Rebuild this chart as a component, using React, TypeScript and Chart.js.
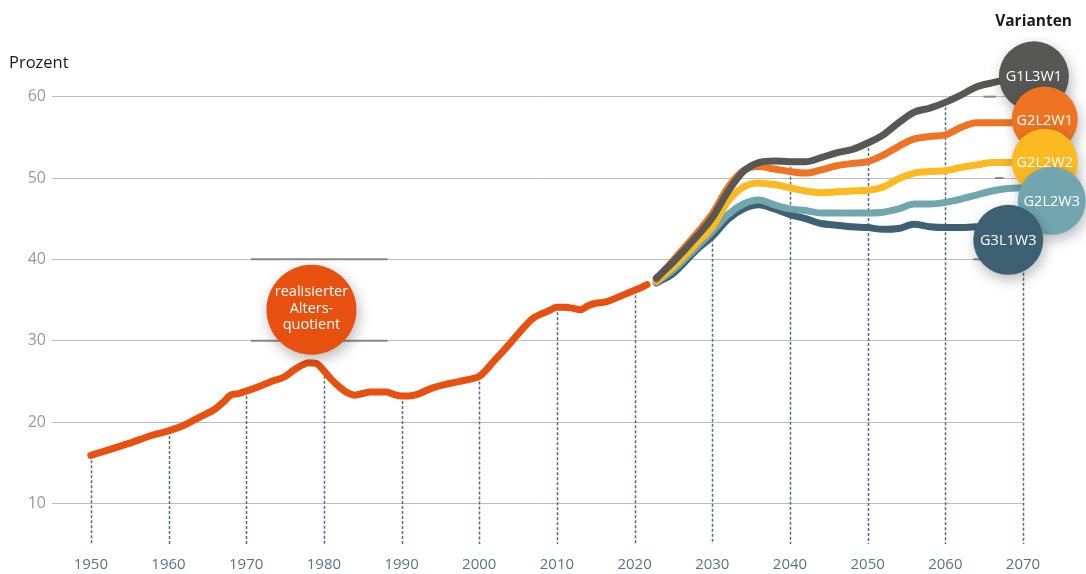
import React, { useEffect, useRef } from "react";
import { Chart, registerables } from "chart.js";

Chart.register(...registerables);

// ---------- data ----------
const histYears = [
  1950, 1955, 1958, 1960, 1962, 1964, 1966, 1967, 1968, 1969, 1970, 1972, 1973, 1975, 1976, 1977,
  1978, 1979, 1980, 1981, 1982, 1983, 1984, 1985, 1986, 1988, 1989, 1990, 1991, 1992, 1994, 1996,
  1998, 1999, 2000, 2002, 2004, 2006, 2007, 2008, 2009, 2010, 2011, 2012, 2013, 2014, 2015, 2016,
  2017, 2018, 2019, 2020, 2021, 2021.6,
];
const histValues = [
  15.9, 17.4, 18.4, 18.9, 19.6, 20.6, 21.6, 22.4, 23.3, 23.5, 23.8, 24.5, 24.9, 25.6, 26.3, 26.9,
  27.3, 27.2, 26.3, 25.2, 24.3, 23.6, 23.3, 23.5, 23.7, 23.7, 23.4, 23.2, 23.2, 23.4, 24.2, 24.7,
  25.1, 25.3, 25.6, 27.6, 29.7, 31.9, 32.8, 33.3, 33.7, 34.1, 34.1, 34.0, 33.8, 34.3, 34.6, 34.7,
  35.0, 35.4, 35.8, 36.2, 36.6, 36.9,
];

const projYears = [
  2022.8, 2025, 2028, 2030, 2032, 2034, 2036, 2038, 2040, 2042, 2044, 2046, 2048, 2050, 2052, 2054,
  2056, 2058, 2060, 2062, 2064, 2066, 2068, 2070,
];
const g1l3w1 = [
  37.7, 39.7, 42.8, 45.1, 48.3, 50.8, 51.9, 52.1, 52.0, 52.0, 52.5, 53.1, 53.5, 54.3, 55.3, 56.8,
  58.1, 58.6, 59.3, 60.2, 61.2, 61.7, 62.1, null,
];
const g2l2w1 = [
  37.5, 39.9, 43.2, 45.6, 48.8, 50.9, 51.4, 51.1, 50.8, 50.6, 51.0, 51.5, 51.8, 52.0, 52.8, 53.9,
  54.8, 55.1, 55.3, 56.2, 56.8, 56.8, 56.8, 56.8,
];
const g2l2w2 = [
  37.3, 39.1, 42.0, 44.0, 47.1, 48.9, 49.4, 49.2, 48.8, 48.4, 48.2, 48.3, 48.4, 48.5, 48.9, 49.9,
  50.6, 50.8, 50.9, 51.3, 51.6, 51.9, 51.9, 51.9,
];
const g2l2w3 = [
  37.2, 38.7, 41.5, 43.4, 45.5, 46.8, 47.3, 46.7, 46.2, 46.0, 45.7, 45.7, 45.7, 45.7, 45.8, 46.2,
  46.8, 46.8, 47.0, 47.4, 47.9, 48.4, 48.7, 48.8,
];
const g3l1w3 = [
  37.1, 38.3, 41.2, 42.8, 44.9, 46.2, 46.7, 46.2, 45.5, 45.0, 44.4, 44.2, 44.0, 43.9, 43.7, 43.8,
  44.3, 44.0, 43.9, 43.9, 44.0, 44.0, null, null,
];

const xTickYears = [1950, 1960, 1970, 1980, 1990, 2000, 2010, 2020, 2030, 2040, 2050, 2060, 2070];
const yTickValues = [10, 20, 30, 40, 50, 60];

const variantNames = ["G1L3W1", "G2L2W1", "G2L2W2", "G2L2W3", "G3L1W3"];
const variantSeries = [g1l3w1, g2l2w1, g2l2w2, g2l2w3, g3l1w3];
const variantColors = ["#575756", "#EE7322", "#FBB922", "#72A6AF", "#3D6073"];
const histColor = "#E8500F";
const histLabelLines = ["realisierter", "Alters-", "quotient"];

// label bubble anchors in data units [year, value, radius]
const variantBubbles: [number, number, number][] = [
  [2071.4, 62.5, 35],
  [2072.8, 57.2, 33],
  [2072.8, 52.0, 33],
  [2073.7, 47.2, 34],
  [2068.1, 42.4, 35],
];
const histBubble: [number, number, number] = [1978.4, 33.8, 45];

const FONT = "'Open Sans', 'Noto Sans', sans-serif";

function interp(xs: number[], ys: (number | null)[], x: number): number | null {
  for (let i = 0; i < xs.length - 1; i++) {
    const a = ys[i];
    const b = ys[i + 1];
    if (a == null || b == null) continue;
    if (x >= xs[i] && x <= xs[i + 1]) {
      const t = (x - xs[i]) / (xs[i + 1] - xs[i]);
      return a + (b - a) * t;
    }
  }
  return null;
}

const decorPlugin = {
  id: "decor",
  beforeDatasetsDraw(chart: any) {
    const { ctx, chartArea, scales } = chart;
    const xs = scales.x;
    const ys = scales.y;
    ctx.save();
    // darker bracket segments
    ctx.strokeStyle = "#8a8a8a";
    ctx.lineWidth = 2;
    const segs: [number, number, number][] = [
      [1970.6, 1988.2, 40],
      [1970.6, 1988.2, 30],
      [2064.9, 2066.5, 60],
      [2066.4, 2067.5, 50],
      [2063.6, 2065.8, 40],
    ];
    segs.forEach(([a, b, v]) => {
      ctx.beginPath();
      ctx.moveTo(xs.getPixelForValue(a), ys.getPixelForValue(v));
      ctx.lineTo(xs.getPixelForValue(b), ys.getPixelForValue(v));
      ctx.stroke();
    });
    // dashed drop lines
    ctx.strokeStyle = "#4E6F82";
    ctx.lineWidth = 1.5;
    ctx.setLineDash([3, 2]);
    xTickYears.forEach((yr) => {
      const cands: number[] = [];
      const h = interp(histYears, histValues, yr);
      if (h != null) cands.push(h);
      variantSeries.forEach((s) => {
        const v = interp(projYears, s, yr);
        if (v != null) cands.push(v);
      });
      const top = cands.length ? Math.max(...cands) : variantBubbles[4][1];
      const px = Math.round(xs.getPixelForValue(yr)) + 0.5;
      ctx.beginPath();
      ctx.moveTo(px, ys.getPixelForValue(top));
      ctx.lineTo(px, chartArea.bottom);
      ctx.stroke();
    });
    ctx.restore();
  },
  afterDatasetsDraw(chart: any) {
    const { ctx, scales } = chart;
    const xs = scales.x;
    const ys = scales.y;
    const drawBubble = (cx: number, cy: number, r: number, color: string) => {
      ctx.save();
      ctx.shadowColor = "rgba(0,0,0,0.28)";
      ctx.shadowBlur = 14;
      ctx.shadowOffsetX = 2;
      ctx.shadowOffsetY = 5;
      ctx.fillStyle = color;
      ctx.beginPath();
      ctx.arc(cx, cy, r, 0, Math.PI * 2);
      ctx.fill();
      ctx.restore();
    };
    {
      const [yr, v, r] = histBubble;
      const cx = xs.getPixelForValue(yr);
      const cy = ys.getPixelForValue(v);
      drawBubble(cx, cy, r, histColor);
      ctx.save();
      ctx.fillStyle = "#ffffff";
      ctx.font = `14.5px ${FONT}`;
      ctx.textAlign = "center";
      ctx.textBaseline = "middle";
      histLabelLines.forEach((t, i) => {
        ctx.fillText(t, cx, cy + (i - 1) * 16.5 - 1);
      });
      ctx.restore();
    }
    variantBubbles.forEach(([yr, v, r], i) => {
      const cx = xs.getPixelForValue(yr);
      const cy = ys.getPixelForValue(v);
      drawBubble(cx, cy, r, variantColors[i]);
      ctx.save();
      ctx.fillStyle = "#ffffff";
      ctx.font = `14.5px ${FONT}`;
      ctx.textAlign = "center";
      ctx.textBaseline = "middle";
      ctx.fillText(variantNames[i], cx, cy + 1);
      ctx.restore();
    });
  },
  afterDraw(chart: any) {
    const { ctx } = chart;
    ctx.save();
    ctx.fillStyle = "#1a1a1a";
    ctx.textBaseline = "middle";
    ctx.textAlign = "left";
    ctx.font = `16.5px ${FONT}`;
    ctx.fillText("Prozent", 9, 63);
    ctx.font = `bold 15.5px ${FONT}`;
    ctx.textAlign = "right";
    ctx.fillText("Varianten", 1072, 22);
    ctx.restore();
  },
};

export default function App() {
  const ref = useRef<HTMLCanvasElement | null>(null);
  useEffect(() => {
    if (!ref.current) return;
    const toPts = (xs: number[], ys: (number | null)[]) =>
      xs.map((x, i) => ({ x, y: ys[i] })).filter((p) => p.y != null);
    const lineStyle = {
      borderWidth: 7,
      pointRadius: 0,
      pointHoverRadius: 0,
      cubicInterpolationMode: "monotone" as const,
      borderCapStyle: "round" as const,
      borderJoinStyle: "round" as const,
      fill: false,
      clip: false as const,
    };
    const datasets: any[] = variantNames.map((name, i) => ({
      label: name,
      data: toPts(projYears, variantSeries[i]),
      borderColor: variantColors[i],
      ...lineStyle,
    }));
    datasets.push({
      label: "realisierter Altersquotient",
      data: toPts(histYears, histValues),
      borderColor: histColor,
      ...lineStyle,
    });
    const chart = new Chart(ref.current, {
      type: "line",
      data: { datasets },
      options: {
        responsive: false,
        animation: false,
        devicePixelRatio: 1,
        layout: { padding: { top: 56, right: 63, bottom: 0, left: 0 } },
        plugins: { legend: { display: false }, tooltip: { enabled: false } },
        scales: {
          x: {
            type: "linear",
            min: 1945,
            max: 2070,
            grid: { display: false, drawTicks: false },
            border: { display: false },
            afterBuildTicks: (s: any) => {
              s.ticks = xTickYears.map((v) => ({ value: v }));
            },
            afterFit: (s: any) => {
              s.height = 30;
            },
            ticks: {
              color: "#587585",
              font: { family: FONT, size: 15 },
              padding: 12,
              maxRotation: 0,
              autoSkip: false,
              callback: (v: any) => String(v),
            },
          },
          y: {
            type: "linear",
            min: 5,
            max: 65,
            grid: { color: "#bdbdbd", lineWidth: 1, drawTicks: false },
            border: { display: false },
            afterBuildTicks: (s: any) => {
              s.ticks = yTickValues.map((v) => ({ value: v }));
            },
            afterFit: (s: any) => {
              s.width = 52;
            },
            ticks: {
              color: "#9a9a9a",
              font: { family: FONT, size: 16 },
              padding: 6,
              callback: (v: any) => String(v),
            },
          },
        },
      },
      plugins: [decorPlugin],
    });
    return () => chart.destroy();
  }, []);
  return (
    <div style={{ position: "fixed", left: 0, top: 0, width: 1086, height: 574, background: "#fff" }}>
      <canvas ref={ref} width={1086} height={574} style={{ display: "block" }} />
    </div>
  );
}
